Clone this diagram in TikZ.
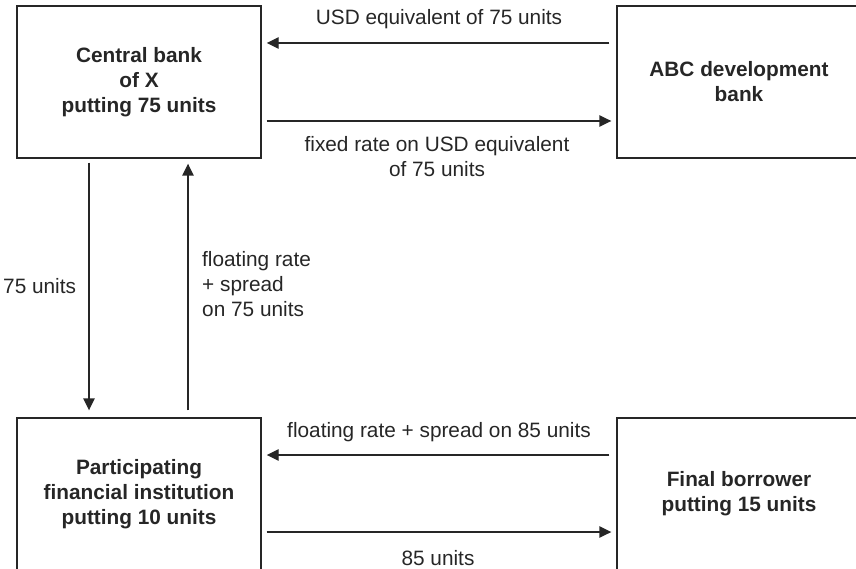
\documentclass[tikz,border=0pt]{standalone}
\usepackage{fontspec}
\setmainfont{Liberation Sans}
\usetikzlibrary{arrows.meta}
\definecolor{ink}{HTML}{262626}
\begin{document}
\begin{tikzpicture}[x=1pt,y=-1pt,
  every node/.style={text=ink},
  party/.style={draw=ink, line width=1.4pt, minimum width=244pt, minimum height=152pt,
    inner sep=0pt, align=center, font=\fontsize{20.8pt}{25pt}\selectfont\bfseries},
  flowlabel/.style={inner sep=0pt, font=\fontsize{20.8pt}{25pt}\selectfont},
  arr/.style={draw=ink, line width=1.4pt, -{Triangle[length=12pt,width=11.5pt]}}]
  \useasboundingbox (0,0) rectangle (856,569);
  \clip (0,0) rectangle (856,569);

  % the four parties
  \node[party] (cb)  at (139,82)  {Central bank\\of X\\putting 75 units};
  \node[party] (abc) at (739,82)  {ABC development\\bank};
  \node[party] (pfi) at (139,494) {Participating\\financial institution\\putting 10 units};
  \node[party] (fb)  at (739,494) {Final borrower\\putting 15 units};

  % flows between central bank and development bank
  \draw[arr, shorten <=7pt, shorten >=5pt] (abc.west |- 0,43) -- (cb.east |- 0,43);
  \draw[arr, shorten <=5pt, shorten >=5pt] (cb.east |- 0,121) -- (abc.west |- 0,121);
  \node[flowlabel, anchor=base] (l1) at (439,25) {USD equivalent of 75 units};
  \node[flowlabel, anchor=north, align=center] (l2) at (437,136)
    {fixed rate on USD equivalent\\of 75 units};

  % flows between central bank and participating institution
  \draw[arr, shorten <=4pt, shorten >=7pt] (cb.south -| 89,0) -- (pfi.north -| 89,0);
  \draw[arr, shorten <=7pt, shorten >=5pt] (pfi.north -| 188,0) -- (cb.south -| 188,0);
  \node[flowlabel, anchor=base west] (l3) at (3,293) {75 units};
  \node[flowlabel, anchor=north west, align=left] (l4) at (202,251)
    {floating rate\\+ spread\\on 75 units};

  % flows between participating institution and final borrower
  \draw[arr, shorten <=7pt, shorten >=5pt] (fb.west |- 0,455) -- (pfi.east |- 0,455);
  \draw[arr, shorten <=5pt, shorten >=5pt] (pfi.east |- 0,532) -- (fb.west |- 0,532);
  \node[flowlabel, anchor=base] (l5) at (439,437) {floating rate + spread on 85 units};
  \node[flowlabel, anchor=base] (l6) at (438,565) {85 units};
\end{tikzpicture}
\end{document}
